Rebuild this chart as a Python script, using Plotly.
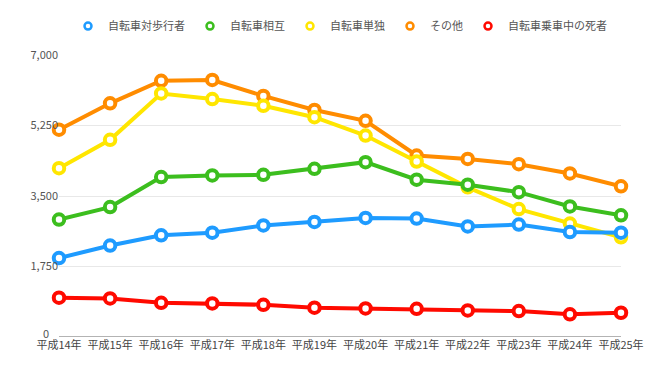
import plotly.graph_objects as go

years = ["平成14年", "平成15年", "平成16年", "平成17年", "平成18年", "平成19年",
         "平成20年", "平成21年", "平成22年", "平成23年", "平成24年", "平成25年"]

series_names = ["自転車対歩行者", "自転車相互", "自転車単独", "その他", "自転車乗車中の死者"]
series_colors = ["#1E9BFF", "#3CBE1E", "#FFE600", "#FF8C00", "#FF0A00"]

pedestrian = [1960, 2270, 2525, 2590, 2770, 2855, 2955, 2940, 2745, 2790, 2605, 2590]
mutual = [2915, 3225, 3970, 4010, 4025, 4175, 4340, 3905, 3780, 3595, 3240, 3020]
single = [4190, 4895, 6045, 5905, 5740, 5455, 5000, 4355, 3715, 3175, 2815, 2475]
other = [5145, 5800, 6360, 6380, 5985, 5635, 5365, 4505, 4420, 4290, 4060, 3740]
deaths = [975, 958, 850, 833, 800, 727, 710, 700, 660, 644, 562, 602]

y_ticks = [1750, 3500, 5250, 7000]
y_zero = 0

values = [pedestrian, mutual, single, other, deaths]

fig = go.Figure()
order = [3, 2, 1, 0, 4]
for i in order:
    fig.add_trace(go.Scatter(
        x=years, y=values[i], mode="lines+markers", name=series_names[i],
        line=dict(color=series_colors[i], width=4),
        marker=dict(symbol="circle", size=10.5, color="white",
                    line=dict(color=series_colors[i], width=4)),
        cliponaxis=False, showlegend=False))

for i in range(5):
    fig.add_trace(go.Scatter(
        x=[None], y=[None], mode="markers", name=series_names[i],
        marker=dict(symbol="circle", size=7, color="white",
                    line=dict(color=series_colors[i], width=2.5)),
        showlegend=True))

fig.update_layout(
    width=672, height=372,
    margin=dict(l=59, r=51, t=55, b=35, autoexpand=False),
    paper_bgcolor="white", plot_bgcolor="white",
    font=dict(family="Noto Sans CJK JP, sans-serif", size=11, color="#555555"),
    legend=dict(orientation="h", x=0.5, xanchor="center", y=0.93, yanchor="middle",
                yref="container", font=dict(size=11, color="#555555"),
                itemwidth=30),
    xaxis=dict(type="category", range=[0, 11], showgrid=False, zeroline=False,
               showline=False, ticks="", tickfont=dict(size=11, color="#444444"),
               automargin=False, fixedrange=True),
    yaxis=dict(range=[0, 7000], tickvals=y_ticks, tickformat=",d",
               showgrid=True, gridcolor="#E8E8E8", gridwidth=1, zeroline=False,
               showline=False, ticks="", tickfont=dict(size=11, color="#555555"),
               automargin=False, fixedrange=True),
)
fig.add_annotation(x=0, xref="paper", xanchor="right", xshift=-8,
                   y=y_zero, yref="y", yshift=4, yanchor="middle",
                   text=str(y_zero), showarrow=False,
                   font=dict(size=11, color="#555555"))
fig.add_shape(type="line", xref="paper", yref="y", x0=0, x1=1, y0=0, y1=0,
              line=dict(color="#666666", width=1), layer="below")

fig.write_html("out.html", config={"displayModeBar": False},
               post_script="document.body.style.margin='0';document.body.style.overflow='hidden';")
